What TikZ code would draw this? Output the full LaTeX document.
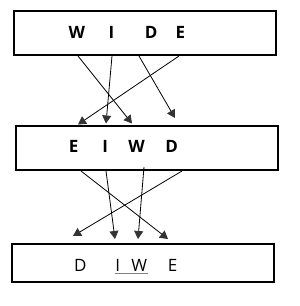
\documentclass[tikz,border=0pt]{standalone}
\usepackage{fontspec}
\setmainfont{Open Sans}
\usetikzlibrary{arrows.meta}
\definecolor{tipgrey}{HTML}{333333}
\tikzset{
  box/.style={draw=black, line width=1.3pt},
  letb/.style={font=\fontsize{17}{17}\selectfont\bfseries, inner sep=0pt},
  letr/.style={font=\fontsize{17}{17}\selectfont, inner sep=0pt},
  conn/.style={draw=black, line width=0.8pt, -{Triangle[width=9pt,length=8pt,fill=tipgrey,color=tipgrey]}},
}
\begin{document}
\begin{tikzpicture}[x=1pt,y=-1pt]
\useasboundingbox (0,0) rectangle (300,306);
% boxes
\draw[box] (14,11) rectangle (276,55);
\draw[box] (16,126) rectangle (278,170);
\draw[box] (12,244) rectangle (274,282);
% letters
\node[letb] (w1) at (76.8,32.2) {W};
\node[letb] (i1) at (111.5,32.2) {I};
\node[letb] (d1) at (151.2,32.2) {D};
\node[letb] (e1) at (180.5,32.2) {E};
\node[letb] (e2) at (73.7,146) {E};
\node[letb] (i2) at (105.3,146) {I};
\node[letb] (w2) at (136.7,146) {W};
\node[letb] (d2) at (171.7,146) {D};
\node[letr] (d3) at (80.3,265) {D};
\node[letr] (i3) at (117.8,265) {I};
\node[letr] (w3) at (139.3,265) {W};
\node[letr] (e3) at (172.5,265) {E};
\draw[gray, line width=0.8pt] (115,273.5) -- (148,273.5);
% connector endpoints
\coordinate (sw1) at (78,56);
\coordinate (si1) at (112,56);
\coordinate (sd1) at (139,56);
\coordinate (se1) at (179,56);
\coordinate (tw2) at (132,123.5);
\coordinate (ti2) at (106,123.5);
\coordinate (td2) at (175,118);
\coordinate (te2) at (78,124.5);
\coordinate (se2) at (81,171);
\coordinate (si2) at (106,171);
\coordinate (sw2) at (144,167);
\coordinate (sd2) at (182,171);
\coordinate (te3) at (168,239);
\coordinate (ti3) at (115,239);
\coordinate (tw3) at (138,239);
\coordinate (td3) at (73,236);
% connectors
\draw[conn] (sw1) -- (tw2);
\draw[conn] (si1) -- (ti2);
\draw[conn] (sd1) -- (td2);
\draw[conn] (se1) -- (te2);
\draw[conn] (se2) -- (te3);
\draw[conn] (si2) -- (ti3);
\draw[conn] (sw2) -- (tw3);
\draw[conn] (sd2) -- (td3);
\end{tikzpicture}
\end{document}
